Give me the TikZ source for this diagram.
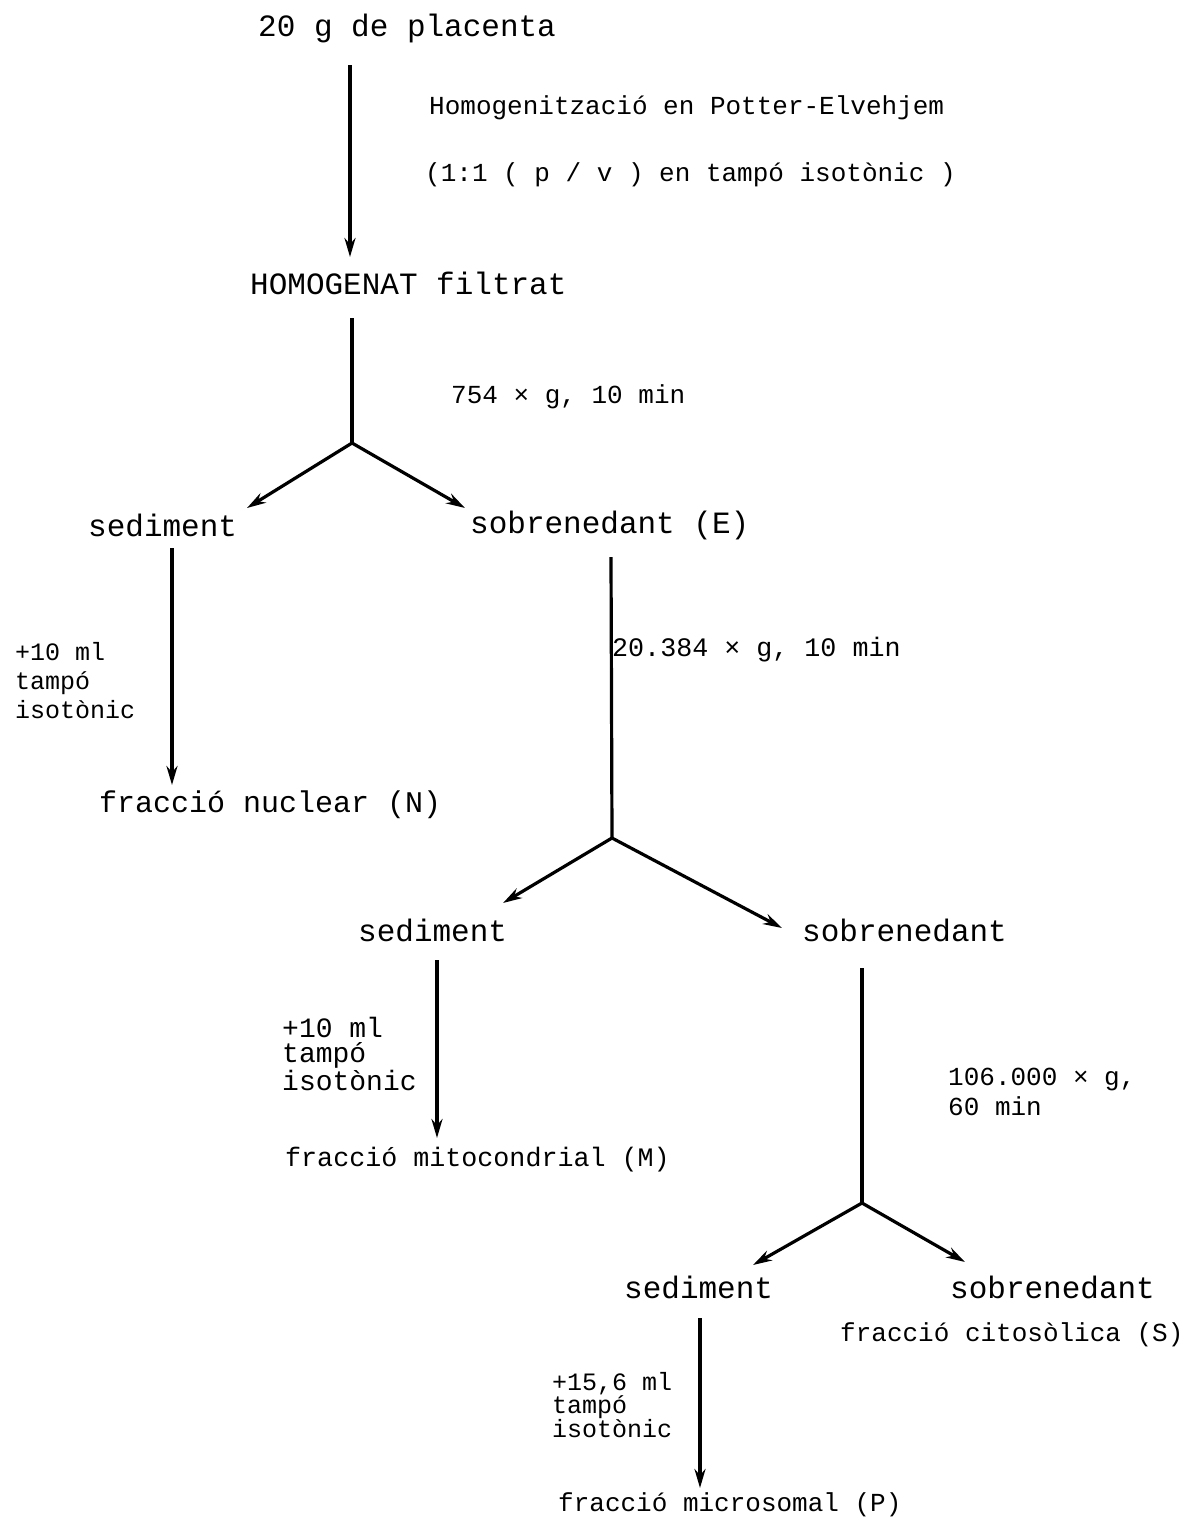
\documentclass[tikz,border=0pt]{standalone}
\usepackage{fontspec}
\setmainfont{Liberation Mono}
\usetikzlibrary{arrows.meta}
\begin{document}
\begin{tikzpicture}[x=1pt,y=-1pt,
  every node/.style={inner sep=0pt, anchor=west, text=black},
  big/.style={font=\fontsize{31}{36}\selectfont},
  mid/.style={font=\fontsize{26}{30}\selectfont, align=left},
  midl/.style={font=\fontsize{26.7}{30}\selectfont},
  noteA/.style={font=\fontsize{25}{29}\selectfont, align=left},
  noteB/.style={font=\fontsize{28}{25}\selectfont, align=left},
  noteC/.style={font=\fontsize{25}{23}\selectfont, align=left},
  flow/.style={line width=3.2pt, -{Stealth[length=19pt,width=11pt]}},
  stem/.style={line width=3.2pt}]
\useasboundingbox (0,0) rectangle (1187,1519);

% ---- texts ----
\node[big] (placenta) at (258,28) {20 g de placenta};
\node[mid] (homog) at (429,108) {Homogenització en Potter-Elvehjem};
\node[mid] (ratio) at (425,175) {(1:1 ( p / v ) en tampó isotònic )};
\node[big] (homogenat) at (250,283) {HOMOGENAT filtrat};
\node[mid] (spinA) at (451,397) {754 × g, 10 min};
\node[big] (sedA) at (88,525) {sediment};
\node[big] (sobA) at (470,525) {sobrenedant (E)};
\node[noteA] (addA) at (15,681) {+10 ml\\tampó\\isotònic};
\node[font=\fontsize{30}{36}\selectfont] (nuc) at (99,805) {fracció nuclear (N)};
\node[midl] (spinB) at (612,650) {20.384 × g, 10 min};
\node[big] (sedB) at (358,930) {sediment};
\node[big] (sobB) at (802,930) {sobrenedant};
\node[noteB] (addB) at (282,1054) {+10 ml\\tampó\\isotònic};
\node[midl] (mito) at (285,1160) {fracció mitocondrial (M)};
\node[mid] (spinC) at (948,1092) {106.000 × g,\\60 min};
\node[big] (sedC) at (624,1287) {sediment};
\node[big] (sobC) at (950,1287) {sobrenedant};
\node[mid] (cyto) at (840,1335) {fracció citosòlica (S)};
\node[noteC] (addC) at (552,1405) {+15,6 ml\\tampó\\isotònic};
\node[mid] (micro) at (558,1505) {fracció microsomal (P)};

% ---- connector ends and junctions ----
\coordinate (a1s) at (350,65);   \coordinate (a1e) at (350,257);
\coordinate (s1s) at (352,318);  \coordinate (j1)  at (352,443);
\coordinate (j1l) at (247,508);  \coordinate (j1r) at (465,508);
\coordinate (a2s) at (172,548);  \coordinate (a2e) at (172,785);
\coordinate (s2s) at (611,557);  \coordinate (j2)  at (612,838);
\coordinate (j2l) at (503,903);  \coordinate (j2r) at (782,928);
\coordinate (a3s) at (437,960);  \coordinate (a3e) at (437,1138);
\coordinate (s3s) at (862,968);  \coordinate (j3)  at (862,1203);
\coordinate (j3l) at (753,1265); \coordinate (j3r) at (965,1262);
\coordinate (a4s) at (700,1318); \coordinate (a4e) at (700,1488);

% ---- connectors ----
\draw[flow] (a1s) -- (a1e);
\draw[stem] (s1s) -- (j1);
\draw[flow] (j1) -- (j1l);
\draw[flow] (j1) -- (j1r);
\draw[flow] (a2s) -- (a2e);
\draw[stem] (s2s) -- (j2);
\draw[flow] (j2) -- (j2l);
\draw[flow] (j2) -- (j2r);
\draw[flow] (a3s) -- (a3e);
\draw[stem] (s3s) -- (j3);
\draw[flow] (j3) -- (j3l);
\draw[flow] (j3) -- (j3r);
\draw[flow] (a4s) -- (a4e);
\end{tikzpicture}
\end{document}
